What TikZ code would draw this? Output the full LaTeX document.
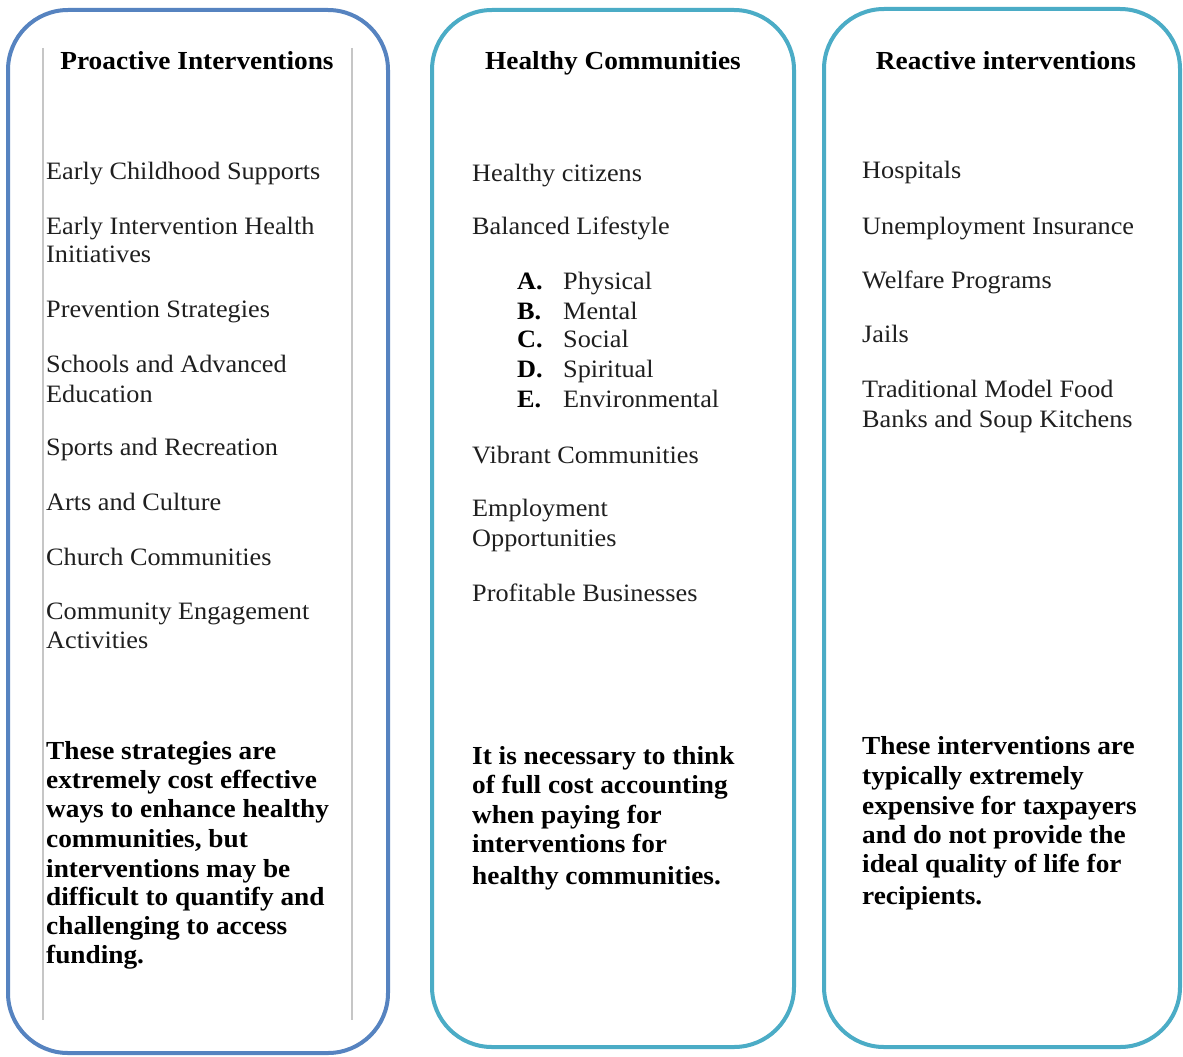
\documentclass[tikz,border=0pt]{standalone}
\usepackage{fontspec}
\setmainfont{Liberation Serif}[FakeStretch=1.05]
\begin{document}
\begin{tikzpicture}[x=1pt,y=-1pt,
  boxblue/.style={draw=colBlue,line width=4pt,rounded corners=60pt},
  boxcyan/.style={draw=colCyan,line width=4pt,rounded corners=60pt},
  guide/.style={draw=gray!45,line width=1.6pt},
  reg/.style={anchor=base west,inner sep=0pt,font=\fontsize{25}{30}\selectfont,text=black!88},
  bld/.style={anchor=base west,inner sep=0pt,font=\fontsize{26}{30}\selectfont\bfseries,text=black},
  ttl/.style={anchor=base,inner sep=0pt,font=\fontsize{26}{30}\selectfont\bfseries,text=black}]
\definecolor{colBlue}{RGB}{86,131,192}
\definecolor{colCyan}{RGB}{75,172,198}
\useasboundingbox[fill=white] (0,0) rectangle (1183,1057);
% boxes
\draw[boxblue] (8,10) rectangle (388,1053);
\draw[boxcyan] (432,10) rectangle (794,1047);
\draw[boxcyan] (824,9) rectangle (1180,1047);
\draw[guide] (43,48) -- (43,1020);
\draw[guide] (352,48) -- (352,1020);
% titles
\node[ttl] (t1) at (197,70) {Proactive Interventions};
\node[ttl] (t2) at (613,70) {Healthy Communities};
\node[ttl] (t3) at (1006,70) {Reactive interventions};
% left column
\node[reg] (l1) at (46,179) {Early Childhood Supports};
\node[reg] (l2a) at (46,234) {Early Intervention Health};
\node[reg] (l2b) at (46,262) {Initiatives};
\node[reg] (l3) at (46,317) {Prevention Strategies};
\node[reg] (l4a) at (46,372) {Schools and Advanced};
\node[reg] (l4b) at (46,402) {Education};
\node[reg] (l5) at (46,455) {Sports and Recreation};
\node[reg] (l6) at (46,510) {Arts and Culture};
\node[reg] (l7) at (46,565) {Church Communities};
\node[reg] (l8a) at (46,619) {Community Engagement};
\node[reg] (l8b) at (46,648) {Activities};
\node[bld] (lb1) at (46,759) {These strategies are};
\node[bld] (lb2) at (46,788) {extremely cost effective};
\node[bld] (lb3) at (46,817) {ways to enhance healthy};
\node[bld] (lb4) at (46,847) {communities, but};
\node[bld] (lb5) at (46,877) {interventions may be};
\node[bld] (lb6) at (46,905) {difficult to quantify and};
\node[bld] (lb7) at (46,934) {challenging to access};
\node[bld] (lb8) at (46,963) {funding.};
% middle column
\node[reg] (m1) at (472,181) {Healthy citizens};
\node[reg] (m2) at (472,234) {Balanced Lifestyle};
\node[bld,font=\fontsize{25}{30}\selectfont\bfseries] (ma) at (517,289) {A.};
\node[bld,font=\fontsize{25}{30}\selectfont\bfseries] (mb) at (517,319) {B.};
\node[bld,font=\fontsize{25}{30}\selectfont\bfseries] (mc) at (517,347) {C.};
\node[bld,font=\fontsize{25}{30}\selectfont\bfseries] (md) at (517,377) {D.};
\node[bld,font=\fontsize{25}{30}\selectfont\bfseries] (me) at (517,407) {E.};
\node[reg] (mat) at (563,289) {Physical};
\node[reg] (mbt) at (563,319) {Mental};
\node[reg] (mct) at (563,347) {Social};
\node[reg] (mdt) at (563,377) {Spiritual};
\node[reg] (met) at (563,407) {Environmental};
\node[reg] (m3) at (472,463) {Vibrant Communities};
\node[reg] (m4a) at (472,516) {Employment};
\node[reg] (m4b) at (472,546) {Opportunities};
\node[reg] (m5) at (472,601) {Profitable Businesses};
\node[bld] (mb1) at (472,764) {It is necessary to think};
\node[bld] (mb2) at (472,793) {of full cost accounting};
\node[bld] (mb3) at (472,823) {when paying for};
\node[bld] (mb4) at (472,852) {interventions for};
\node[bld] (mb5) at (472,884) {healthy communities.};
% right column
\node[reg] (r1) at (862,178) {Hospitals};
\node[reg] (r2) at (862,234) {Unemployment Insurance};
\node[reg] (r3) at (862,288) {Welfare Programs};
\node[reg] (r4) at (862,342) {Jails};
\node[reg] (r5a) at (862,397) {Traditional Model Food};
\node[reg] (r5b) at (862,427) {Banks and Soup Kitchens};
\node[bld] (rb1) at (862,754) {These interventions are};
\node[bld] (rb2) at (862,784) {typically extremely};
\node[bld] (rb3) at (862,814) {expensive for taxpayers};
\node[bld] (rb4) at (862,843) {and do not provide the};
\node[bld] (rb5) at (862,872) {ideal quality of life for};
\node[bld] (rb6) at (862,904) {recipients.};
\end{tikzpicture}
\end{document}
